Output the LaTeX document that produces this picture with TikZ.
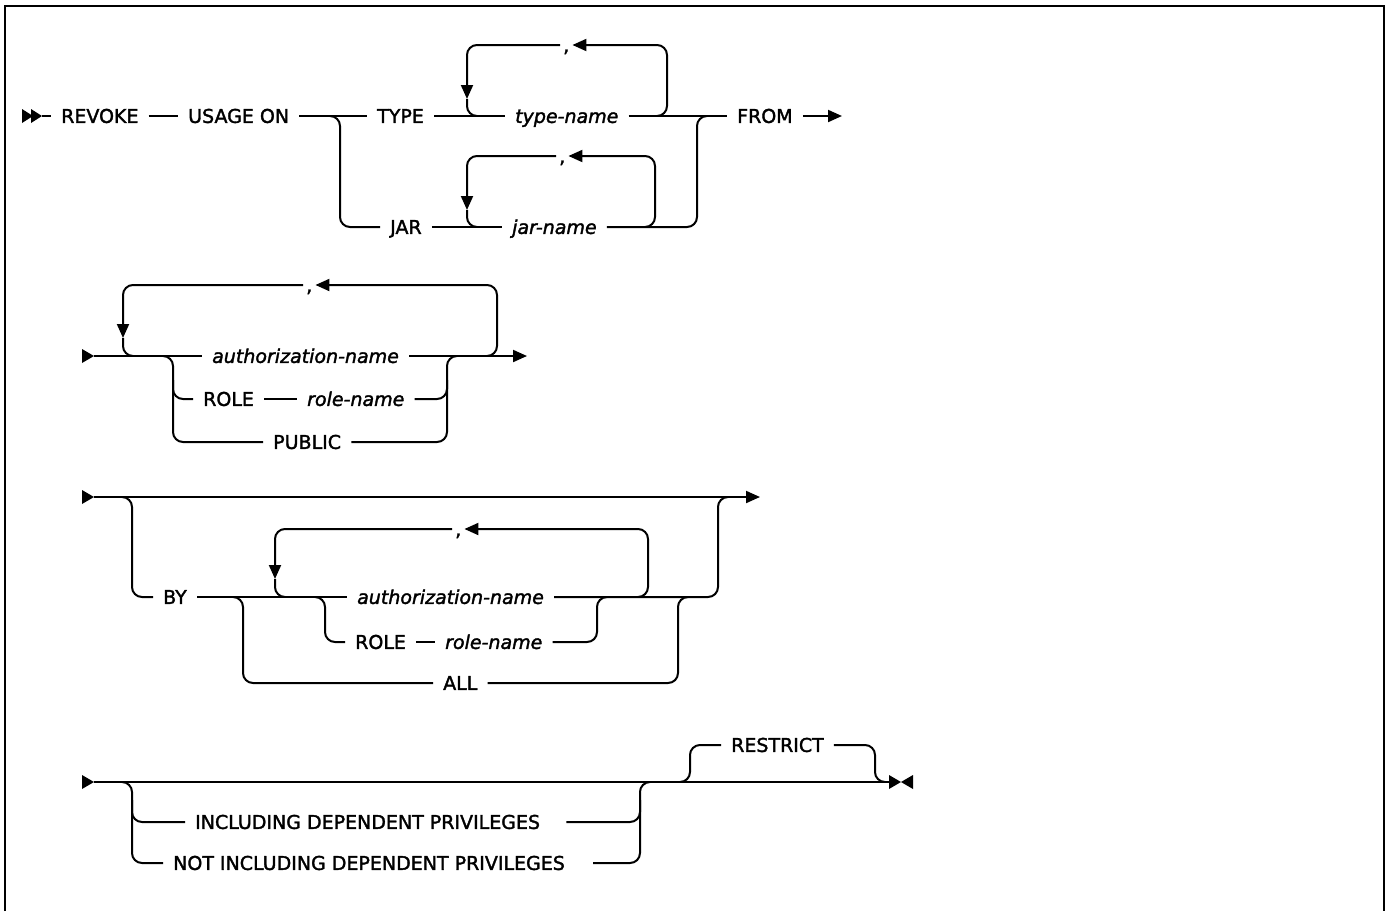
\documentclass[tikz,border=0pt]{standalone}
\usepackage{fontspec}
\setmainfont{DejaVu Sans}[FakeBold=1.8,ItalicFeatures={FakeBold=1.8}]
\usetikzlibrary{arrows.meta}
\begin{document}
\begin{tikzpicture}[x=1pt,y=-1pt,
    kwd/.style={font=\fontsize{19}{23}\selectfont, inner xsep=10pt, inner ysep=0pt,
                text height=13.8pt, text depth=0pt, anchor=west},
    ident/.style={kwd, font=\fontsize{19}{23}\selectfont\itshape},
    punct/.style={kwd, inner xsep=3pt},
    rr/.style={line width=2pt, rounded corners=10pt},
    arr/.style={rr, -{Triangle[length=14pt,width=12pt]}}
  ]
  \useasboundingbox (0,0) rectangle (1387,911);
  \draw[line width=2.5pt] (5,911) -- (5,6) -- (1384,6) -- (1384,911);

  \node[kwd] (revoke) at (51,116) {REVOKE};
  \node[kwd] (usage) at (178,116) {USAGE ON};
  \node[kwd] (type) at (367,116) {TYPE};
  \node[ident] (tname) at (505,116) {type-name};
  \node[kwd] (from) at (727,116) {FROM};
  \node[kwd] (jar) at (380,227) {JAR};
  \node[ident] (jname) at (502,227) {jar-name};
  \node[punct] (cA) at (560,45) {,};
  \node[punct] (cB) at (556,156) {,};

  \fill (22,109) -- (33,116) -- (22,123) -- cycle;
  \fill (31,109) -- (42,116) -- (31,123) -- cycle;
  \draw[rr] (42,116) -- (revoke);
  \draw[rr] (revoke) -- (usage);
  \draw[rr] (usage) -- (type);
  \draw[rr] (type) -- (tname);
  \draw[rr] (tname) -- (from);
  \draw[arr] (from) -- (842,116);
  \draw[rr] (330,116) -- (340,116) -- (340,227) -- (jar);
  \draw[rr] (jar) -- (jname);
  \draw[rr] (jname) -- (697,227) -- (697,116) -- (707,116);
  \draw[arr] (657,116) -- (667,116) -- (667,45) -- (cA.east);
  \draw[arr] (cA.west) -- (467,45) -- (467,99);
  \draw[rr] (467,99) -- (467,116) -- (477,116);
  \draw[arr] (645,227) -- (655,227) -- (655,156) -- (cB.east);
  \draw[arr] (cB.west) -- (467,156) -- (467,210);
  \draw[rr] (467,210) -- (467,227) -- (477,227);

  \node[ident] (auth) at (202,356) {authorization-name};
  \node[kwd] (role) at (193,399) {ROLE};
  \node[ident] (rname) at (297,399) {role-name};
  \node[kwd] (public) at (263,442) {PUBLIC};
  \node[punct] (cC) at (303,285) {,};

  \fill (82,349) -- (94,356) -- (82,363) -- cycle;
  \draw[rr] (94,356) -- (auth);
  \draw[arr] (auth) -- (527,356);
  \draw[rr] (163,356) -- (173,356) -- (173,442) -- (public);
  \draw[rr] (173,380) -- (173,399) -- (role);
  \draw[rr] (role) -- (rname);
  \draw[rr] (public) -- (447,442) -- (447,356) -- (457,356);
  \draw[rr] (rname) -- (447,399) -- (447,380);
  \draw[arr] (487,356) -- (497,356) -- (497,285) -- (cC.east);
  \draw[arr] (cC.west) -- (123,285) -- (123,338);
  \draw[rr] (123,338) -- (123,356) -- (133,356);

  \node[kwd] (by) at (153,597) {BY};
  \node[ident] (authB) at (347,597) {authorization-name};
  \node[kwd] (roleB) at (345,642) {ROLE};
  \node[ident] (rnameB) at (435,642) {role-name};
  \node[kwd] (all) at (433,683) {ALL};
  \node[punct] (cD) at (452,529) {,};

  \fill (82,490) -- (94,497) -- (82,504) -- cycle;
  \draw[arr] (94,497) -- (760,497);
  \draw[rr] (122,497) -- (132,497) -- (132,597) -- (by);
  \draw[rr] (by) -- (authB);
  \draw[rr] (authB) -- (718,597) -- (718,497) -- (728,497);
  \draw[rr] (233,597) -- (243,597) -- (243,683) -- (all);
  \draw[rr] (all) -- (678,683) -- (678,597) -- (688,597);
  \draw[rr] (315,597) -- (325,597) -- (325,642) -- (roleB);
  \draw[rr] (roleB) -- (rnameB);
  \draw[rr] (rnameB) -- (597,642) -- (597,597) -- (607,597);
  \draw[arr] (638,597) -- (648,597) -- (648,529) -- (cD.east);
  \draw[arr] (cD.west) -- (275,529) -- (275,579);
  \draw[rr] (275,579) -- (275,597) -- (285,597);

  \node[kwd] (incl) at (185,822) {INCLUDING DEPENDENT PRIVILEGES\hspace*{16pt}};
  \node[kwd] (notincl) at (163,863) {NOT INCLUDING DEPENDENT PRIVILEGES\hspace*{18pt}};
  \node[kwd] (restrict) at (721,745) {RESTRICT};

  \fill (82,775) -- (94,782) -- (82,789) -- cycle;
  \draw[rr] (94,782) -- (889,782);
  \fill (889,775) -- (901,782) -- (889,789) -- cycle;
  \fill (913,775) -- (901,782) -- (913,789) -- cycle;
  \draw[rr] (122,782) -- (132,782) -- (132,863) -- (notincl);
  \draw[rr] (132,800) -- (132,822) -- (incl);
  \draw[rr] (notincl) -- (640,863) -- (640,782) -- (650,782);
  \draw[rr] (incl) -- (640,822) -- (640,800);
  \draw[rr] (680,782) -- (690,782) -- (690,745) -- (restrict);
  \draw[rr] (restrict) -- (875,745) -- (875,782) -- (885,782);
\end{tikzpicture}
\end{document}
